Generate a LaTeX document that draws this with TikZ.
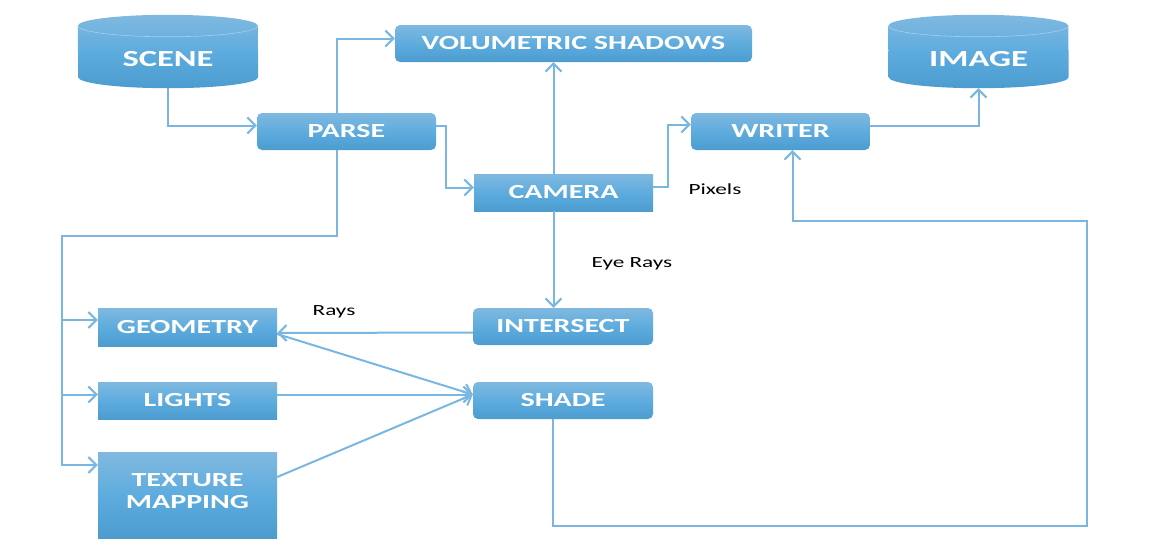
\documentclass[tikz,border=0pt]{standalone}
\usepackage{fontspec}
\setmainfont{Carlito}[FakeStretch=1.5]
\usepackage{tikz}
\usetikzlibrary{positioning,arrows.meta,backgrounds}

\definecolor{boxtop}{RGB}{128,185,224}
\definecolor{boxmid}{RGB}{94,172,222}
\definecolor{boxbot}{RGB}{76,156,208}
\definecolor{linec}{RGB}{122,182,226}

\tikzset{
  box/.style={rectangle, minimum width=179pt, minimum height=37pt, inner sep=0pt,
    text=white, font=\fontsize{20}{22}\selectfont\bfseries, align=center,
    top color=boxtop, bottom color=boxbot, middle color=boxmid},
  rbox/.style={box, rounded corners=5pt},
  cyl/.style={rectangle, minimum width=180pt, minimum height=57pt, inner sep=0pt,
    text=white, font=\fontsize{23}{26}\selectfont\bfseries},
  cylfill/.style={top color=boxtop, bottom color=boxbot, middle color=boxmid},
  rim/.style={draw=boxtop!70!white, line width=0.6pt},
  lbl/.style={font=\fontsize{15.5}{18}\selectfont, text=black},
  link/.style={draw=linec, line width=2pt, -{Straight Barb[length=8pt,width=16pt]}}
}

\begin{document}
\begin{tikzpicture}[x=1pt,y=-1pt]
\useasboundingbox (0,0) rectangle (1154,549);

% stores
\node[cyl] (scene) at (168,59.5) {SCENE};
\node[cyl] (image) at (978.5,59.5) {IMAGE};
\begin{scope}[on background layer]
\shade[cylfill] ([yshift=5pt]scene.north west) arc[start angle=180, end angle=0, x radius=90pt, y radius=11pt]
  -- ([yshift=11pt]scene.south east) arc[start angle=0, end angle=-180, x radius=90pt, y radius=11pt] -- cycle;
\draw[rim] ([yshift=5pt]scene.north west) arc[start angle=180, end angle=360, x radius=90pt, y radius=11pt];
\shade[cylfill] ([yshift=5pt]image.north west) arc[start angle=180, end angle=0, x radius=90pt, y radius=11pt]
  -- ([yshift=11pt]image.south east) arc[start angle=0, end angle=-180, x radius=90pt, y radius=11pt] -- cycle;
\draw[rim] ([yshift=5pt]image.north west) arc[start angle=180, end angle=360, x radius=90pt, y radius=11pt];
\end{scope}

% stages
\node[rbox, minimum width=357pt] (vol) at (573.5,43.5) {VOLUMETRIC SHADOWS};
\node[rbox] (parse) at (346.5,131.5) {PARSE};
\node[rbox] (writer) at (780.5,131.5) {WRITER};
\node[box] (camera) at (563.5,192.5) {CAMERA};
\node[rbox, minimum width=180pt] (intersect) at (563,326.5) {INTERSECT};
\node[rbox, minimum width=180pt] (shade) at (563,400.5) {SHADE};
\node[box, minimum height=38pt] (geometry) at (187.5,327) {GEOMETRY};
\node[box] (lights) at (187.5,400.5) {LIGHTS};
\node[box, minimum height=86pt] (texture) at (187.5,495) {TEXTURE\\MAPPING\\[-14pt]};

\node[lbl] (pixels) at (715,189) {Pixels};
\node[lbl] (eye) at (632,264) {Eye Rays};
\node[lbl] (rays) at (334,312) {Rays};

\coordinate (bus) at (62,236);
\coordinate (camtop) at ([xshift=-10pt]camera.north);
\coordinate (cambot) at ([xshift=-10pt]camera.south);
\coordinate (loopse) at (1087,526);
\coordinate (loopne) at (1087,221);

% connectors
\draw[link] (scene.south) |- ([yshift=6pt]parse.west);
\draw[link] ([xshift=-10pt]parse.north) |- ([yshift=5pt]vol.west);
\draw[link] ([yshift=6pt]parse.east) -- ++(10,0) |- ([yshift=5pt]camera.west);
\draw[link] ([xshift=-10pt]parse.south) |- (bus) |- ([yshift=7pt]geometry.west);
\draw[link] ([xshift=-10pt]parse.south) |- (bus) |- ([yshift=6pt]lights.west);
\draw[link] ([xshift=-10pt]parse.south) |- (bus) |- ([yshift=30pt]texture.west);
\draw[link] (camtop) -- (camtop |- vol.south);
\draw[link] ([yshift=6pt]camera.east) -- ++(15,0) |- ([yshift=7pt]writer.west);
\draw[link] (cambot) -- (cambot |- intersect.north);
\draw[link] ([yshift=-6pt]intersect.west) -- ([yshift=-6pt]geometry.east);
\draw[link] ([yshift=-7pt]geometry.east) -- ([yshift=6pt]shade.west);
\draw[link] ([yshift=6pt]lights.east) -- ([yshift=6pt]shade.west);
\draw[link] ([yshift=18pt]texture.east) -- ([yshift=6pt]shade.west);
\draw[link] ([xshift=-10pt]shade.south) |- (loopse) -- (loopne) -| ([xshift=12pt]writer.south);
\draw[link] ([yshift=6pt]writer.east) -| (image.south);
\end{tikzpicture}
\end{document}
